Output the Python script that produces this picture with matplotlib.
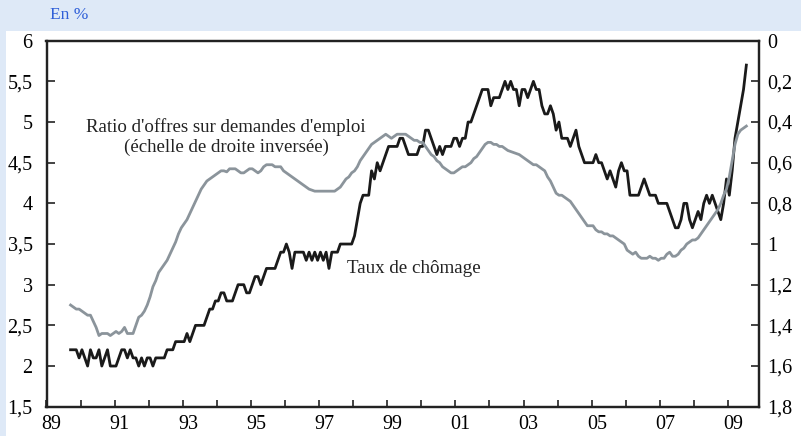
import numpy as np
import matplotlib
matplotlib.use("Agg")
import matplotlib.pyplot as plt
from matplotlib.patches import Rectangle

plt.rcParams['font.family'] = ['Liberation Serif', 'DejaVu Serif']

# Données mensuelles, de septembre 1989 à juillet 2009
start_year = 1989
start_month = 9

# Taux de chômage (échelle de gauche), en %
chomage = [
    2.2, 2.2, 2.2, 2.1,                                              # 1989
    2.2, 2.1, 2.0, 2.2, 2.1, 2.1, 2.2, 2.0, 2.1, 2.2, 2.0, 2.0,      # 1990
    2.0, 2.1, 2.2, 2.2, 2.1, 2.2, 2.1, 2.1, 2.0, 2.1, 2.0, 2.1,      # 1991
    2.1, 2.0, 2.1, 2.1, 2.1, 2.1, 2.2, 2.2, 2.2, 2.3, 2.3, 2.3,      # 1992
    2.3, 2.4, 2.3, 2.4, 2.5, 2.5, 2.5, 2.5, 2.6, 2.7, 2.7, 2.8,      # 1993
    2.8, 2.9, 2.9, 2.8, 2.8, 2.8, 2.9, 3.0, 3.0, 3.0, 2.9, 2.9,      # 1994
    3.0, 3.1, 3.1, 3.0, 3.1, 3.2, 3.2, 3.2, 3.2, 3.3, 3.4, 3.4,      # 1995
    3.5, 3.4, 3.2, 3.4, 3.4, 3.4, 3.4, 3.3, 3.4, 3.3, 3.4, 3.3,      # 1996
    3.4, 3.3, 3.4, 3.2, 3.4, 3.4, 3.4, 3.5, 3.5, 3.5, 3.5, 3.5,      # 1997
    3.6, 3.8, 4.0, 4.1, 4.1, 4.1, 4.4, 4.3, 4.5, 4.4, 4.5, 4.6,      # 1998
    4.7, 4.7, 4.7, 4.7, 4.8, 4.8, 4.7, 4.6, 4.6, 4.6, 4.6, 4.7,      # 1999
    4.7, 4.9, 4.9, 4.8, 4.7, 4.6, 4.7, 4.6, 4.7, 4.7, 4.7, 4.8,      # 2000
    4.8, 4.7, 4.8, 4.8, 5.0, 5.0, 5.1, 5.2, 5.3, 5.4, 5.4, 5.4,      # 2001
    5.2, 5.3, 5.3, 5.3, 5.4, 5.5, 5.4, 5.5, 5.4, 5.4, 5.2, 5.4,      # 2002
    5.4, 5.3, 5.4, 5.5, 5.4, 5.4, 5.2, 5.1, 5.1, 5.2, 5.1, 4.9,      # 2003
    5.0, 4.8, 4.8, 4.8, 4.7, 4.8, 4.9, 4.7, 4.6, 4.5, 4.5, 4.5,      # 2004
    4.5, 4.6, 4.5, 4.5, 4.4, 4.3, 4.4, 4.3, 4.2, 4.4, 4.5, 4.4,      # 2005
    4.4, 4.1, 4.1, 4.1, 4.1, 4.2, 4.3, 4.2, 4.1, 4.1, 4.1, 4.0,      # 2006
    4.0, 4.0, 4.0, 3.9, 3.8, 3.7, 3.7, 3.8, 4.0, 4.0, 3.8, 3.7,      # 2007
    3.8, 3.9, 3.8, 4.0, 4.1, 4.0, 4.1, 4.0, 3.9, 3.8, 4.0, 4.3,      # 2008
    4.1, 4.4, 4.8, 5.0, 5.2, 5.4, 5.7,                               # 2009
]

# Ratio d'offres sur demandes d'emploi (échelle de droite inversée)
ratio = [
    1.30, 1.31, 1.32, 1.32,                                                  # 1989
    1.33, 1.34, 1.35, 1.35, 1.38, 1.41, 1.45, 1.44, 1.44, 1.44, 1.45, 1.44,  # 1990
    1.43, 1.44, 1.43, 1.41, 1.44, 1.44, 1.44, 1.40, 1.36, 1.35, 1.33, 1.30,  # 1991
    1.26, 1.21, 1.18, 1.14, 1.12, 1.10, 1.08, 1.05, 1.02, 0.99, 0.95, 0.92,  # 1992
    0.90, 0.88, 0.85, 0.82, 0.79, 0.76, 0.73, 0.71, 0.69, 0.68, 0.67, 0.66,  # 1993
    0.65, 0.64, 0.64, 0.645, 0.63, 0.63, 0.63, 0.64, 0.65, 0.65, 0.64, 0.63, # 1994
    0.63, 0.64, 0.65, 0.64, 0.62, 0.61, 0.61, 0.61, 0.62, 0.62, 0.62, 0.64,  # 1995
    0.65, 0.66, 0.67, 0.68, 0.69, 0.70, 0.71, 0.72, 0.73, 0.735, 0.74, 0.74, # 1996
    0.74, 0.74, 0.74, 0.74, 0.74, 0.74, 0.73, 0.72, 0.70, 0.68, 0.67, 0.65,  # 1997
    0.64, 0.62, 0.59, 0.57, 0.55, 0.53, 0.51, 0.50, 0.49, 0.48, 0.47, 0.46,  # 1998
    0.47, 0.48, 0.47, 0.46, 0.46, 0.46, 0.46, 0.47, 0.48, 0.49, 0.49, 0.50,  # 1999
    0.50, 0.52, 0.54, 0.56, 0.57, 0.59, 0.60, 0.62, 0.63, 0.64, 0.65, 0.65,  # 2000
    0.64, 0.63, 0.62, 0.62, 0.61, 0.60, 0.58, 0.57, 0.55, 0.53, 0.51, 0.50,  # 2001
    0.50, 0.51, 0.51, 0.52, 0.52, 0.53, 0.54, 0.545, 0.55, 0.555, 0.56, 0.57,# 2002
    0.58, 0.59, 0.60, 0.61, 0.61, 0.62, 0.63, 0.64, 0.67, 0.69, 0.72, 0.75,  # 2003
    0.76, 0.76, 0.77, 0.78, 0.79, 0.81, 0.83, 0.85, 0.87, 0.89, 0.91, 0.91,  # 2004
    0.91, 0.93, 0.94, 0.94, 0.95, 0.95, 0.96, 0.96, 0.97, 0.98, 0.99, 1.00,  # 2005
    1.03, 1.04, 1.05, 1.04, 1.06, 1.07, 1.07, 1.07, 1.06, 1.07, 1.07, 1.08,  # 2006
    1.07, 1.07, 1.05, 1.04, 1.06, 1.06, 1.05, 1.03, 1.02, 1.00, 0.99, 0.98,  # 2007
    0.98, 0.97, 0.95, 0.93, 0.91, 0.89, 0.87, 0.85, 0.83, 0.80, 0.76, 0.73,  # 2008
    0.67, 0.59, 0.51, 0.46, 0.44, 0.43, 0.42,                                # 2009
]

left_ticks = [1.5, 2, 2.5, 3, 3.5, 4, 4.5, 5, 5.5, 6]
right_ticks = [0, 0.2, 0.4, 0.6, 0.8, 1, 1.2, 1.4, 1.6, 1.8]
year_labels = ['89', '91', '93', '95', '97', '99', '01', '03', '05', '07', '09']


def fr(v):
    # format à la française : virgule décimale
    return ('%g' % v).replace('.', ',')


n = len(chomage)
t = start_year + (start_month - 1 + np.arange(n)) / 12 + 0.04

fig = plt.figure(figsize=(8.01, 4.36), dpi=100, facecolor='#dee9f7')
# panneau blanc
fig.patches.append(Rectangle((6 / 801, 0), 1, 1 - 31 / 436, transform=fig.transFigure,
                             facecolor='white', edgecolor='none', zorder=-10))
fig.text(50 / 801, 1 - 15 / 436, 'En %', color='#2f5fd8', fontsize=12.5, va='center', ha='left')

ax = fig.add_axes([46.5 / 801, 1 - 406.7 / 436, (759.3 - 46.5) / 801, (406.7 - 40.7) / 436])
ax.set_facecolor('none')
ax2 = ax.twinx()

ax.plot(t, chomage, color='#1a1a1a', lw=2.0, zorder=3)
ax2.plot(t, ratio, color='#8b949b', lw=2.0, zorder=2)

ax.set_xlim(1989, 2009.92)
ax.set_ylim(1.5, 6)
ax2.set_ylim(1.8, 0)

ax.set_yticks(left_ticks)
ax.set_yticklabels([fr(v) for v in left_ticks])
ax2.set_yticks(right_ticks)
ax2.set_yticklabels([fr(v) for v in right_ticks])

ax.set_xticks(np.arange(1989, 2010))
ax.set_xticklabels([])
ax.set_xticks([1989 + 2 * i + 0.15 for i in range(len(year_labels))], minor=True)
ax.set_xticklabels(year_labels, minor=True)

ax.tick_params(axis='x', which='major', direction='in', length=5, width=1.2, color='#222222')
ax.tick_params(axis='x', which='minor', length=0, pad=6, labelsize=14.5)
ax.tick_params(axis='y', direction='in', length=5.5, width=1.2, pad=10, labelsize=14.5, color='#222222')
ax2.tick_params(axis='y', direction='in', length=6, width=1.2, pad=6, labelsize=14.5, color='#222222')

for a in (ax, ax2):
    for s in a.spines.values():
        s.set_linewidth(1.6)
        s.set_color('#222222')

px_per_year = 34.08
ax.text(1989 + (226 - 46.5) / px_per_year, 4.82,
        "Ratio d'offres sur demandes d'emploi\n(échelle de droite inversée)",
        fontsize=13.6, ha='center', va='center', linespacing=1.2, color='#222222')
ax.text(1989 + (347 - 46.5) / px_per_year, 3.2, 'Taux de chômage', fontsize=13.7,
        ha='left', va='center', color='#222222')

fig.savefig('out.png', dpi=100, facecolor=fig.get_facecolor())
